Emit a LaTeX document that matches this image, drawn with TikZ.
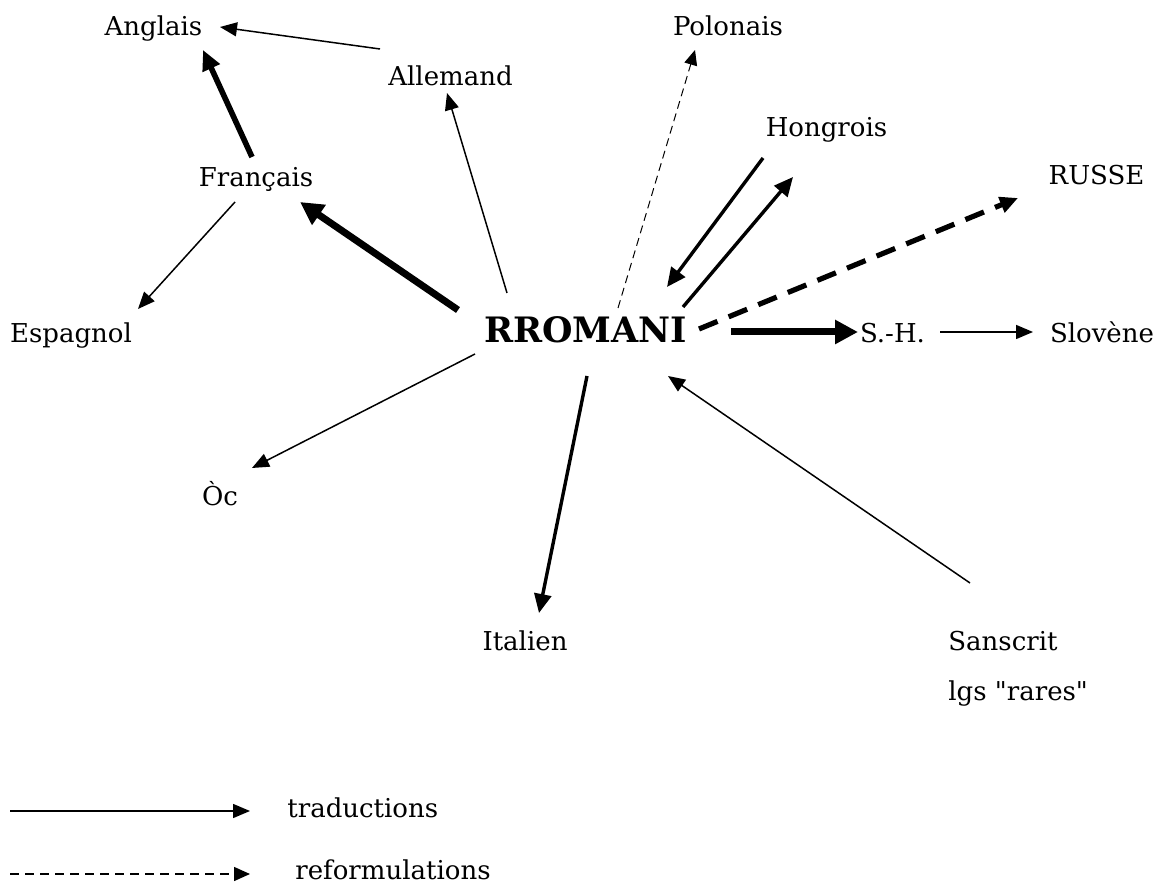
\documentclass[tikz,border=0pt]{standalone}
\usepackage{fontspec}
\setmainfont{DejaVu Serif}
\usetikzlibrary{arrows.meta,positioning}

\tikzset{
  lang/.style={inner sep=0pt, anchor=base, font=\fontsize{13pt}{15pt}\selectfont},
  trad/.style={-{Triangle[length=8.5pt,width=7pt]}, line width=0.75pt},
  tradmed/.style={-{Triangle[length=9.5pt,width=8.5pt]}, line width=1.7pt},
  tradthick/.style={-{Triangle[length=10pt,width=9pt]}, line width=2.8pt},
  tradbig/.style={-{Triangle[length=11.5pt,width=11.5pt]}, line width=3.5pt},
  reform/.style={-{Triangle[length=7.5pt,width=6.5pt]}, line width=0.5pt, dash pattern=on 4pt off 2.5pt},
  reformthick/.style={-{Triangle[length=9pt,width=8pt]}, line width=2.6pt, dash pattern=on 10pt off 6pt},
}

\begin{document}
\begin{tikzpicture}[x=0.5pt, y=-0.5pt]
  \useasboundingbox (0,0) rectangle (1155,886);

  % langues
  \node[lang] (anglais) at (153.5,36) {Anglais};
  \node[lang] (allemand) at (450.5,86) {Allemand};
  \node[lang] (polonais) at (728,36) {Polonais};
  \node[lang] (hongrois) at (826.5,137) {Hongrois};
  \node[lang] (francais) at (256,187) {Français};
  \node[lang] (russe) at (1096.5,185) {RUSSE};
  \node[lang] (espagnol) at (71,343) {Espagnol};
  \node[lang, font=\fontsize{17.5pt}{20pt}\selectfont\bfseries] (rromani) at (585.5,343) {RROMANI};
  \node[lang] (sh) at (892.5,343) {S.-H.};
  \node[lang] (slovene) at (1102,343) {Slovène};
  \node[lang] (oc) at (220,506) {Òc};
  \node[lang] (italien) at (525,650) {Italien};
  \node[lang, anchor=base west] (sanscrit) at (948,650) {Sanscrit};
  \node[lang, anchor=base west] (rares) at (948,700) {lgs \textquotedbl rares\textquotedbl};

  % traductions
  \draw[trad] ([shift={(-70.5,-37)}]allemand.base) -- ([shift={(66.5,-9)}]anglais.base);
  \draw[tradthick] ([shift={(-4,-30)}]francais.base) -- ([shift={(49.5,14)}]anglais.base);
  \draw[tradbig] ([shift={(-127.5,-33)}]rromani.base) -- ([shift={(44,15)}]francais.base);
  \draw[trad] ([shift={(-21,15)}]francais.base) -- ([shift={(67,-34)}]espagnol.base);
  \draw[trad] ([shift={(-78.5,-50)}]rromani.base) -- ([shift={(-3.5,7)}]allemand.base);
  \draw[tradmed] ([shift={(-63.5,21)}]hongrois.base) -- ([shift={(81.5,-56)}]rromani.base);
  \draw[tradmed] ([shift={(97.5,-36)}]rromani.base) -- ([shift={(-33.5,40)}]hongrois.base);
  \draw[tradbig] ([shift={(145.5,-11)}]rromani.base) -- ([shift={(-34.5,-11)}]sh.base);
  \draw[trad] ([shift={(47.5,-11)}]sh.base) -- ([shift={(-69,-11)}]slovene.base);
  \draw[trad] ([shift={(-110.5,11)}]rromani.base) -- ([shift={(32,-38)}]oc.base);
  \draw[tradmed] ([shift={(1.5,33)}]rromani.base) -- ([shift={(14,-37)}]italien.base);
  \draw[trad] ([shift={(22,-67)}]sanscrit.base west) -- ([shift={(82.5,33)}]rromani.base);

  % reformulations
  \draw[reform] ([shift={(32.5,-35)}]rromani.base) -- ([shift={(-33,14)}]polonais.base);
  \draw[reformthick] ([shift={(113.5,-14)}]rromani.base) -- ([shift={(-78.5,13)}]russe.base);

  % legende
  \coordinate (t0) at (10,811);
  \coordinate (t1) at (250,811);
  \coordinate (r0) at (10,874);
  \coordinate (r1) at (250,874);
  \node[lang, anchor=base west] (ltrad) at (287,817) {traductions};
  \node[lang, anchor=base west] (lreform) at (295,879) {reformulations};
  \draw[trad] (t0) -- (t1);
  \draw[-{Triangle[length=8pt,width=7pt]}, line width=0.75pt, dash pattern=on 4.5pt off 3pt] (r0) -- (r1);

\end{tikzpicture}
\end{document}
